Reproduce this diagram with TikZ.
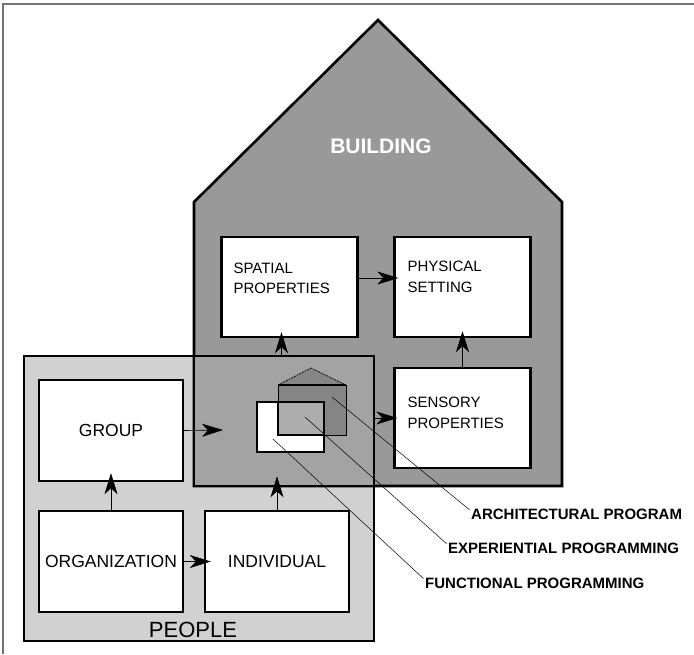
\documentclass[tikz,border=0pt]{standalone}
\usepackage{fontspec}
\setmainfont{Liberation Sans}
\usetikzlibrary{positioning, arrows.meta, calc}
\definecolor{framegray}{gray}{0.45}
\definecolor{housegray}{gray}{0.6}
\definecolor{peoplegray}{gray}{0.82}
\definecolor{overlapgray}{gray}{0.64}
\definecolor{minigray}{gray}{0.52}
\definecolor{expgray}{gray}{0.68}
\tikzset{
  diagram/.style={
	x=1pt, y=-1pt, % one unit is one pixel of the picture
	>={Stealth[length=21pt, width=13pt, inset=6pt]}, % big filled heads
	node distance=30pt,
  },
  region/.style={draw, line width=2.6pt, inner sep=0pt},
  peoplebox/.style={draw, line width=2.4pt, fill=white, minimum width=144pt, minimum height=101pt, font=\fontsize{17.5}{21}\selectfont},
  propbox/.style={draw, line width=2.4pt, fill=white, minimum width=136pt, minimum height=100pt},
  proplabel/.style={inner sep=0pt, align=left, font=\fontsize{15}{20.5}\selectfont},
  flow/.style={->, line width=0.6pt, shorten >=-7pt},
  leader/.style={line width=0.5pt},
  programlabel/.style={anchor=west, inner sep=0pt, font=\bfseries\fontsize{15}{18}\selectfont},
}
\begin{document}
\begin{tikzpicture}[diagram]
	\useasboundingbox (0,0) rectangle (694,654);
	\draw[framegray, line width=1.3pt] (3,654) -- (3,4) -- (694,4);

	% people and building
	\node[region, fill=peoplegray, minimum width=350pt, minimum height=285pt] (people) at (199,498.5) {};
	\draw[region, fill=housegray] (194,486) -- (194,202) -- (378,20) -- (562,202) -- (562,486) -- cycle;
	\node[region, fill=overlapgray, minimum width=180pt, minimum height=130pt] (overlap) at (284,421) {};
	\node[font=\bfseries\fontsize{21}{24}\selectfont, text=white] (building) at (381,146) {BUILDING};
	\node[font=\fontsize{22}{24}\selectfont] (peopletxt) at (193,630) {PEOPLE};

	% building boxes
	\node[propbox] (spatial) at (289.5,287) {};
	\node[propbox, right=34.6pt of spatial] (physical) {};
	\node[propbox, below=28.6pt of physical] (sensory) {};
	\node[proplabel, below right=27pt and 13pt of spatial.north west] (spatialtxt) {SPATIAL\\PROPERTIES};
	\node[proplabel, below right=25.5pt and 14pt of physical.north west] (physicaltxt) {PHYSICAL\\SETTING};
	\node[proplabel, below right=30.5pt and 14pt of sensory.north west] (sensorytxt) {SENSORY\\PROPERTIES};

	% people boxes
	\node[peoplebox] (group) at (111,430.5) {GROUP};
	\node[peoplebox, below=27.6pt of group] (organization) {ORGANIZATION};
	\node[peoplebox, right=19.6pt of organization] (individual) {INDIVIDUAL};

	% programs in the overlap
	\fill[minigray] (278,435) -- (278,385) -- (311,368) -- (346,385) -- (346,435) -- cycle;
	\draw[line width=0.7pt, dash pattern=on 2pt off 1pt] (278,385) -- (311,368) -- (346,385);
	\draw[line width=0.7pt] (278,385) -- (278,435) -- (346,435) -- (346,385);
	\draw[line width=1.6pt] (278,385) -- (346,385);
	\node[draw, line width=1.2pt, fill=white, minimum width=67pt, minimum height=50pt, inner sep=0pt] (functional) at (290.5,427) {};
	\node[draw, line width=2pt, fill=expgray, minimum width=46pt, minimum height=33pt, inner sep=0pt] (experiential) at (301,418.5) {};

	% flows
	\draw[flow] (organization.east) -- (individual.west);
	\draw[flow, shorten >=-9pt] (organization.north) -- (group.south);
	\coordinate (groupin) at (223,430);
	\draw[flow, shorten >=0pt] (group.east) -- (groupin);
	\draw[flow, shorten >=-11pt] (individual.north) -- (individual.north |- overlap.south);
	\draw[flow, shorten >=-6pt] ([xshift=-8pt]spatial.south |- overlap.north) -- ([xshift=-8pt]spatial.south);
	\draw[flow, shorten >=-5pt] ([yshift=9pt]spatial.east) -- ([yshift=9pt]physical.west);
	\draw[flow, shorten >=-4pt] (sensory.west -| overlap.east) -- (sensory.west);
	\draw[flow] (sensory.north) -- (physical.south);

	% labels
	\node[programlabel] (archlabel) at (471,514) {ARCHITECTURAL PROGRAM};
	\node[programlabel] (explabel) at (448,548) {EXPERIENTIAL PROGRAMMING};
	\node[programlabel] (funclabel) at (425,583) {FUNCTIONAL PROGRAMMING};
	\coordinate (archpt) at (332,397);
	\coordinate (exppt) at (305,417);
	\coordinate (funcpt) at (273,439);
	\draw[leader, shorten >=2pt] (archpt) -- ([yshift=3pt]archlabel.west);
	\draw[leader, shorten >=2pt] (exppt) -- ([yshift=3pt]explabel.west);
	\draw[leader, shorten >=2pt] (funcpt) -- ([yshift=3pt]funclabel.west);
\end{tikzpicture}
\end{document}
